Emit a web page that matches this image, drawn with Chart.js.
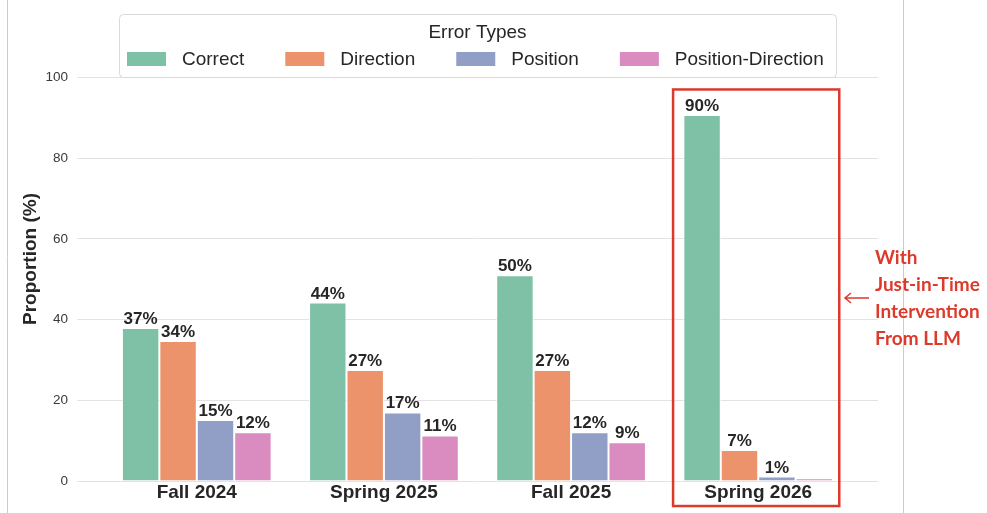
<!DOCTYPE html>
<html>
<head>
<meta charset="utf-8">
<script src="https://cdn.jsdelivr.net/npm/chart.js@4.4.0/dist/chart.umd.min.js"></script>
<style>
  html, body { margin: 0; padding: 0; background: #fff; }
  #wrap { width: 987px; height: 513px; position: relative; }
</style>
</head>
<body>
<div id="wrap"><canvas id="chart"></canvas></div>
<script>
// Données
const semesters = ['Fall 2024', 'Spring 2025', 'Fall 2025', 'Spring 2026'];
const errorTypes = ['Correct', 'Direction', 'Position', 'Position-Direction'];
const correctValues = [37.9, 44.2, 51.0, 90.7];
const directionValues = [34.7, 27.5, 27.5, 7.7];
const positionValues = [15.1, 17.0, 12.1, 1.1];
const posDirValues = [12.1, 11.3, 9.6, 0.7];
const correctLabels = ['37%', '44%', '50%', '90%'];
const directionLabels = ['34%', '27%', '27%', '7%'];
const positionLabels = ['15%', '17%', '12%', '1%'];
const posDirLabels = ['12%', '11%', '9%', ''];
const yTicks = [0, 20, 40, 60, 80, 100];
const annotationLines = ['With', 'Just-in-Time', 'Intervention', 'From LLM'];

const colors = ['#7fc1a6', '#ec936b', '#919fc7', '#da8bc0'];
const seriesValues = [correctValues, directionValues, positionValues, posDirValues];
const seriesLabels = [correctLabels, directionLabels, positionLabels, posDirLabels];
const textColor = '#262626';
const red = '#dc3a2b';

const datasets = errorTypes.map((name, i) => ({
  label: name,
  data: seriesValues[i].map((v, j) => ({ x: j, y: v })),
  backgroundColor: colors[i],
  borderColor: '#ffffff',
  borderWidth: 1,
  borderSkipped: 'bottom',
  categoryPercentage: 0.8,
  barPercentage: 1.0
}));

// Étiquettes de valeurs au-dessus des barres
const valueLabels = {
  id: 'valueLabels',
  afterDatasetsDraw(chart) {
    const ctx = chart.ctx;
    ctx.save();
    ctx.font = 'bold 17px "Liberation Sans", Arial, sans-serif';
    ctx.fillStyle = textColor;
    ctx.textAlign = 'center';
    ctx.textBaseline = 'alphabetic';
    chart.data.datasets.forEach((ds, i) => {
      chart.getDatasetMeta(i).data.forEach((bar, j) => {
        const txt = seriesLabels[i][j];
        if (txt) ctx.fillText(txt, bar.x, bar.y - 4);
      });
    });
    ctx.restore();
  }
};

// Légende, cadre rouge, annotation et bordures
const decorations = {
  id: 'decorations',
  afterDraw(chart) {
    const ctx = chart.ctx;
    const xs = chart.scales.x, ys = chart.scales.y;
    ctx.save();

    // bordures verticales de la figure
    ctx.strokeStyle = '#cccccc';
    ctx.lineWidth = 1;
    ctx.beginPath();
    ctx.moveTo(7.5, 0); ctx.lineTo(7.5, chart.height);
    ctx.moveTo(903.5, 0); ctx.lineTo(903.5, chart.height);
    ctx.stroke();

    // légende
    const bx = 119, by = 14, bw = 717, bh = 63;
    ctx.fillStyle = 'rgba(255,255,255,0.9)';
    ctx.strokeStyle = '#d9d9d9';
    ctx.beginPath();
    ctx.roundRect(bx + 0.5, by + 0.5, bw, bh, 4);
    ctx.fill();
    ctx.stroke();
    ctx.fillStyle = textColor;
    ctx.font = '19px "Liberation Sans", Arial, sans-serif';
    ctx.textAlign = 'center';
    ctx.textBaseline = 'alphabetic';
    ctx.fillText('Error Types', bx + bw / 2, 38);
    ctx.textAlign = 'left';
    let x = 127;
    errorTypes.forEach((name, i) => {
      ctx.fillStyle = colors[i];
      ctx.fillRect(x, 52, 39, 14);
      ctx.fillStyle = textColor;
      ctx.fillText(name, x + 55, 65);
      x += 55 + ctx.measureText(name).width + 41;
    });

    // cadre rouge autour de Spring 2026
    const left = xs.getPixelForValue(3 - 0.455);
    const right = xs.getPixelForValue(3 + 0.433);
    const top = ys.getPixelForValue(97);
    const bottom = ys.getPixelForValue(-6.2);
    ctx.strokeStyle = red;
    ctx.lineWidth = 2.5;
    ctx.strokeRect(left, top, right - left, bottom - top);

    // flèche
    const ay = 298;
    ctx.lineWidth = 1.5;
    ctx.beginPath();
    ctx.moveTo(869, ay); ctx.lineTo(845, ay);
    ctx.moveTo(851, ay - 5); ctx.lineTo(845, ay); ctx.lineTo(851, ay + 5);
    ctx.stroke();

    // texte d'annotation
    ctx.fillStyle = red;
    ctx.font = 'bold 19px Lato, "Open Sans", sans-serif';
    ctx.textAlign = 'left';
    ctx.textBaseline = 'middle';
    annotationLines.forEach((line, k) => {
      ctx.fillText(line, 875, 258 + k * 27);
    });
    ctx.restore();
  }
};

new Chart(document.getElementById('chart'), {
  type: 'bar',
  data: { datasets },
  options: {
    responsive: true,
    maintainAspectRatio: false,
    animation: false,
    layout: { padding: { top: 37, right: 109, left: 0, bottom: 0 } },
    plugins: {
      legend: { display: false },
      tooltip: { enabled: false }
    },
    scales: {
      x: {
        type: 'linear',
        min: -0.64,
        max: 3.64,
        offset: false,
        grid: { display: false, drawTicks: false },
        border: { display: false },
        afterBuildTicks: (scale) => { scale.ticks = semesters.map((s, i) => ({ value: i })); },
        afterFit: (scale) => { scale.height = 32; },
        ticks: {
          padding: 0,
          autoSkip: false,
          maxRotation: 0,
          color: textColor,
          font: { family: '"Liberation Sans", Arial, sans-serif', size: 19, weight: 'bold' },
          callback: (v) => semesters[v]
        }
      },
      y: {
        min: 0,
        max: 110,
        grid: { color: '#e3e3e3', lineWidth: 1, drawTicks: false },
        border: { display: false },
        afterBuildTicks: (scale) => { scale.ticks = yTicks.map(v => ({ value: v })); },
        afterFit: (scale) => { scale.width = 77; },
        title: {
          display: true,
          text: 'Proportion (%)',
          color: textColor,
          padding: { top: 19, bottom: 0 },
          font: { family: '"Liberation Sans", Arial, sans-serif', size: 19, weight: 'bold' }
        },
        ticks: {
          padding: 9,
          color: '#3a3a3a',
          font: { family: '"Liberation Sans", Arial, sans-serif', size: 13.5 }
        }
      }
    }
  },
  plugins: [valueLabels, decorations]
});
</script>
</body>
</html>
